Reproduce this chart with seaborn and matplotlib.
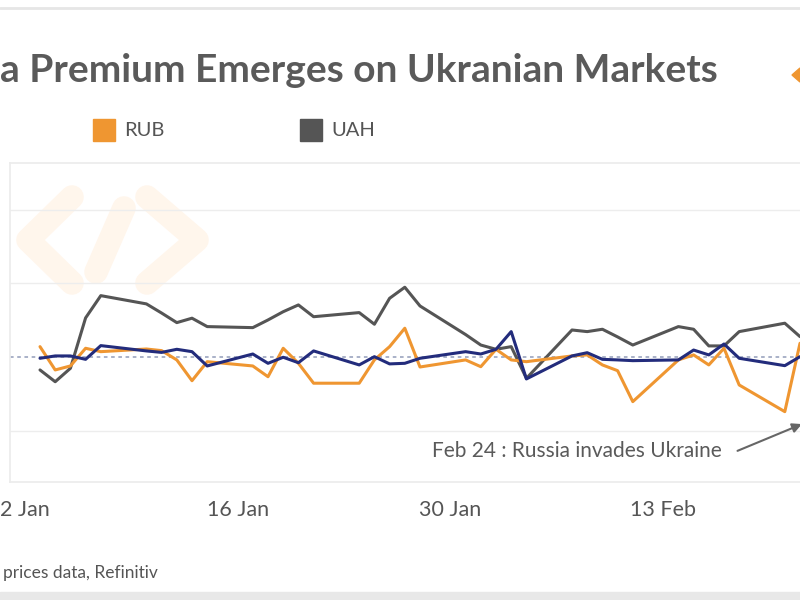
import pandas as pd
import matplotlib.pyplot as plt
import matplotlib.dates as mdates
from matplotlib.patches import Rectangle, Polygon
from matplotlib.lines import Line2D
import seaborn as sns

sns.set_theme(style="white")
plt.rcParams['font.family'] = ['Lato', 'DejaVu Sans']

# --- Data (premium, %), business days ---
dates = [
    "2022-01-03", "2022-01-04", "2022-01-05", "2022-01-06", "2022-01-07",
    "2022-01-10", "2022-01-11", "2022-01-12", "2022-01-13", "2022-01-14",
    "2022-01-17", "2022-01-18", "2022-01-19", "2022-01-20", "2022-01-21",
    "2022-01-24", "2022-01-25", "2022-01-26", "2022-01-27", "2022-01-28",
    "2022-01-31", "2022-02-01", "2022-02-02", "2022-02-03", "2022-02-04",
    "2022-02-07", "2022-02-08", "2022-02-09", "2022-02-10", "2022-02-11",
    "2022-02-14", "2022-02-15", "2022-02-16", "2022-02-17", "2022-02-18",
    "2022-02-21", "2022-02-22",
]
uah = [-0.88, -1.68, -0.77, 2.65, 4.16, 3.60, 2.98, 2.33, 2.63, 2.06,
       1.99, 2.51, 3.07, 3.53, 2.73, 3.01, 2.22, 3.98, 4.73, 3.46,
       1.52, 0.81, 0.52, 0.70, -1.45, 1.83, 1.72, 1.88, 1.36, 0.81,
       2.06, 1.88, 0.75, 0.75, 1.72, 2.29, 1.38]
rub = [0.70, -0.88, -0.61, 0.59, 0.36, 0.54, 0.43, -0.20, -1.61, -0.32,
       -0.61, -1.34, 0.59, -0.43, -1.78, -1.78, -0.20, 0.70, 1.95, -0.68,
       -0.20, -0.66, 0.52, -0.20, -0.32, 0.07, 0.14, -0.54, -0.93, -3.03,
       -0.20, 0.14, -0.54, 0.59, -1.90, -3.71, 0.93]
other = [-0.09, 0.07, 0.07, -0.16, 0.77, 0.41, 0.31, 0.52, 0.36, -0.61,
         0.20, -0.43, -0.02, -0.39, 0.41, -0.54, 0.02, -0.47, -0.43, -0.09,
         0.36, 0.20, 0.52, 1.72, -1.49, 0.07, 0.29, -0.16, -0.20, -0.25,
         -0.20, 0.47, 0.14, 0.88, -0.09, -0.59, 0.02]

tick_dates = ["2022-01-02", "2022-01-16", "2022-01-30", "2022-02-13"]
tick_labels = ["2 Jan", "16 Jan", "30 Jan", "13 Feb"]

colors = {"UAH": "#555555", "RUB": "#EF9631", "Other": "#232C7C"}

df = pd.DataFrame({"date": pd.to_datetime(dates), "UAH": uah, "RUB": rub, "Other": other})
long_df = df.melt(id_vars="date", var_name="currency", value_name="premium")

fig = plt.figure(figsize=(8, 6), dpi=100)
ax = fig.add_axes([0.0125, 0.1967, 1.2, 0.5317])

# faint watermark logo
wm = "#FFF6EC"
for pts in [[(72, 197), (28, 240), (72, 283)],
            [(147, 197), (197, 240), (147, 283)],
            [(96, 272), (124, 208)]]:
    xs = [p[0] / 800 for p in pts]
    ys = [1 - p[1] / 600 for p in pts]
    ax.add_line(Line2D(xs, ys, transform=fig.transFigure, color=wm, lw=17,
                       solid_capstyle="round", solid_joinstyle="round",
                       zorder=0.5, clip_on=False))

for v in [-5, 5, 10]:
    ax.axhline(v, color="#ededed", lw=1, zorder=1)
ax.axhline(0, color="#a3abc4", lw=1.3, ls=(0, (2, 2)), zorder=1)

sns.lineplot(data=long_df, x="date", y="premium", hue="currency",
             hue_order=["UAH", "RUB", "Other"], palette=colors,
             linewidth=2.2, legend=False, ax=ax, zorder=3)

start = mdates.date2num(pd.Timestamp("2022-01-03"))
px_day = 15.2
ax.set_xlim(start - 30 / px_day, start + 930 / px_day)
ax.set_ylim(-8.48, 13.16)
ax.set_yticks([])
ax.set_xticks(pd.to_datetime(tick_dates))
ax.set_xticklabels(tick_labels, fontsize=15.5, color="#555555")
ax.tick_params(axis="x", length=0, pad=13)
ax.set_xlabel("")
ax.set_ylabel("")
for side in ["left", "top", "bottom"]:
    ax.spines[side].set_color("#ececec")
ax.spines["right"].set_visible(False)

# annotation
ax.text(start + 44.87, -6.38, "Feb 24 : Russia invades Ukraine", ha="right",
        va="center", fontsize=15, color="#5a5a5a")
ax.annotate("", xy=(start + 50.3, -4.48), xytext=(start + 45.72, -6.44),
            arrowprops=dict(arrowstyle="-|>", color="#666666", lw=1.5,
                            mutation_scale=14), annotation_clip=False)

# title, legend, source
fig.text(0.0, 1 - 70 / 600, "a Premium Emerges on Ukranian Markets",
         fontsize=28, fontweight="bold", color="#5a5a5a", va="center", ha="left")
for x0, name in [(93, "RUB"), (300, "UAH")]:
    fig.add_artist(Rectangle((x0 / 800, 1 - 141 / 600), 22 / 800, 22 / 600,
                             transform=fig.transFigure, color=colors[name]))
    fig.text((x0 + 31) / 800, 1 - 130 / 600, name, fontsize=14.5,
             color="#555555", va="center")
fig.add_artist(Polygon([(792 / 800, 1 - 75 / 600), (1.0, 1 - 68 / 600), (1.0, 1 - 82 / 600)],
                       transform=fig.transFigure, color="#EF9631"))
fig.text(0.004, 1 - 573 / 600, "prices data, Refinitiv", fontsize=12.5,
         color="#555555", va="center")

fig.add_artist(Line2D([0, 1], [1 - 8 / 600] * 2, color="#e6e6e6", lw=2,
                      transform=fig.transFigure))
fig.add_artist(Rectangle((0, 0), 1, 8 / 600, transform=fig.transFigure,
                         color="#e8e8e8"))

fig.savefig("out.png", dpi=100)
